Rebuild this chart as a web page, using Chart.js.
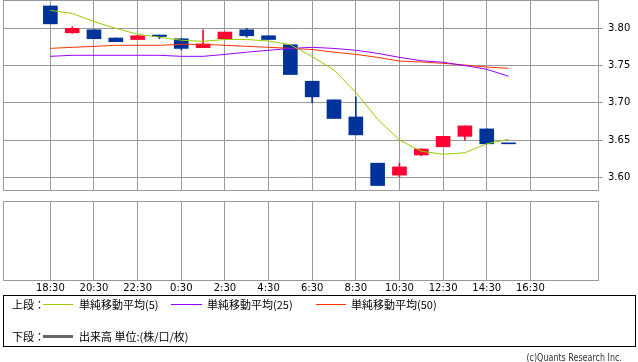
<!DOCTYPE html>
<html lang="ja">
<head>
<meta charset="utf-8">
<title>チャート</title>
<script src="https://cdn.jsdelivr.net/npm/chart.js@4.4.1/dist/chart.umd.min.js"></script>
<style>
  html, body { margin: 0; padding: 0; background: #fff; }
  body {
    width: 638px; height: 362px; position: relative; overflow: hidden;
    font-family: "Noto Sans CJK JP", sans-serif; font-size: 11px; color: #000;
  }
  canvas { position: absolute; left: 0; }
  #priceChart { top: 0; }
  #volumeChart { top: 200px; }
  #legend {
    position: absolute; left: 3px; top: 295px; width: 633px; height: 52px;
    box-sizing: border-box; border: 1px solid #000;
  }
  .lg { position: absolute; line-height: 14px; white-space: nowrap; }
  .sw { position: absolute; height: 0; width: 30px; border-top: 1px solid; }
  #copy {
    position: absolute; right: 16px; top: 351px; line-height: 14px;
    font-family: "DejaVu Sans Condensed", "DejaVu Sans", sans-serif; font-size: 11px;
    color: #333; white-space: nowrap;
    transform: scaleX(0.81); transform-origin: right center;
  }
</style>
</head>
<body>
<canvas id="priceChart" width="638" height="191"></canvas>
<canvas id="volumeChart" width="638" height="96"></canvas>

<div id="legend">
  <span class="lg" style="left:8px; top:1px;">上段：</span>
  <span class="sw" style="left:39px; top:8px; border-color:#99cc00;"></span>
  <span class="lg" style="left:75px; top:1px;">単純移動平均(5)</span>
  <span class="sw" style="left:167px; top:8px; width:31px; border-color:#9900ff;"></span>
  <span class="lg" style="left:203px; top:1px;">単純移動平均(25)</span>
  <span class="sw" style="left:312px; top:8px; border-color:#ff3300;"></span>
  <span class="lg" style="left:347px; top:1px;">単純移動平均(50)</span>

  <span class="lg" style="left:8px; top:33px;">下段：</span>
  <span class="sw" style="left:39px; top:39px; border-top:3px solid #666;"></span>
  <span class="lg" style="left:75px; top:33px;">出来高 単位:(株/口/枚)</span>
</div>
<div id="copy">(c)Quants Research Inc.</div>

<script>
  // --- 1. Chart data (hourly candles, 18:30 -> 15:30) ---
  const candleTimes = [
    "18:30", "19:30", "20:30", "21:30", "22:30", "23:30", "0:30", "1:30",
    "2:30", "3:30", "4:30", "5:30", "6:30", "7:30", "8:30", "9:30",
    "10:30", "11:30", "12:30", "13:30", "14:30", "15:30"
  ];
  const tickLabels = [
    "18:30", "20:30", "22:30", "0:30", "2:30", "4:30",
    "6:30", "8:30", "10:30", "12:30", "14:30", "16:30"
  ];
  const yTicks = [3.60, 3.65, 3.70, 3.75, 3.80];

  const opens  = [3.830, 3.794, 3.798, 3.787, 3.785, 3.791, 3.786, 3.774, 3.786, 3.798, 3.790,
                  3.778, 3.729, 3.704, 3.681, 3.619, 3.603, 3.630, 3.641, 3.655, 3.665, 3.645];
  const highs  = [3.830, 3.802, 3.798, 3.787, 3.790, 3.791, 3.786, 3.798, 3.795, 3.800, 3.790,
                  3.778, 3.729, 3.704, 3.708, 3.619, 3.619, 3.638, 3.655, 3.669, 3.665, 3.645];
  const lows   = [3.806, 3.793, 3.786, 3.782, 3.785, 3.786, 3.771, 3.774, 3.786, 3.788, 3.785,
                  3.738, 3.700, 3.679, 3.657, 3.589, 3.601, 3.629, 3.641, 3.650, 3.645, 3.645];
  const closes = [3.806, 3.800, 3.786, 3.782, 3.790, 3.789, 3.773, 3.779, 3.795, 3.790, 3.785,
                  3.738, 3.708, 3.679, 3.657, 3.589, 3.614, 3.638, 3.655, 3.669, 3.645, 3.645];

  const sma5  = [3.824, 3.820, 3.809, 3.800, 3.792, 3.788, 3.784, 3.7825, 3.785, 3.785, 3.783,
                 3.778, 3.762, 3.744, 3.714, 3.678, 3.650, 3.635, 3.631, 3.633, 3.645, 3.651];
  const sma25 = [3.7624, 3.7638, 3.7638, 3.7638, 3.7638, 3.7638, 3.7624, 3.7624, 3.7650, 3.7680, 3.7705,
                 3.7730, 3.7745, 3.7730, 3.7705, 3.7664, 3.7610, 3.7565, 3.7544, 3.7500, 3.7450, 3.7356];
  const sma50 = [3.7731, 3.7745, 3.7758, 3.7772, 3.7772, 3.7772, 3.7785, 3.7785, 3.7772, 3.7758, 3.7745,
                 3.7731, 3.7715, 3.7680, 3.7650, 3.7610, 3.7560, 3.7548, 3.7530, 3.7507, 3.7480, 3.7463];

  // --- 2. Shared settings ---
  const gridColor = "#999";
  const upColor = "#ff0033";
  const downColor = "#003399";
  const xMin = -2.17, xMax = 25.1; // axis range in hours from 18:30

  Chart.defaults.font.family = "DejaVu Sans";
  Chart.defaults.font.size = 10;
  Chart.defaults.color = "#000";

  const toPoints = arr => arr.map((v, i) => ({ x: i, y: v }));
  const candleColor = ctx => closes[ctx.dataIndex] > opens[ctx.dataIndex] ? upColor : downColor;

  // grey box round the plot area
  const framePlugin = {
    id: "frame",
    beforeDatasetsDraw(chart) {
      const { ctx, chartArea: a } = chart;
      ctx.save();
      ctx.strokeStyle = gridColor;
      ctx.lineWidth = 1;
      ctx.strokeRect(Math.round(a.left) + 0.5, Math.round(a.top) + 0.5,
                     Math.round(a.right - a.left), Math.round(a.bottom - a.top));
      ctx.restore();
    }
  };

  // side axis has a fixed width and asks for no extra room above/below
  const fixSideAxis = s => {
    s.width = 40;
    s.paddingTop = 0;
    s.paddingBottom = 0;
  };

  function timeAxis(showLabels) {
    return {
      type: "linear",
      min: xMin,
      max: xMax,
      offset: false,
      afterBuildTicks: s => { s.ticks = tickLabels.map((_, k) => ({ value: k * 2 })); },
      afterFit: s => {
        s.height = showLabels ? 16 : 0;
        s.paddingLeft = 0;
        s.paddingRight = 0;
      },
      grid: { color: gridColor, drawTicks: false, offset: false },
      border: { display: false },
      ticks: {
        display: showLabels,
        padding: 2,
        autoSkip: false,
        maxRotation: 0,
        callback: (v, i) => tickLabels[i]
      }
    };
  }

  const commonOptions = {
    responsive: false,
    animation: false,
    plugins: { legend: { display: false }, tooltip: { enabled: false } }
  };

  // --- 3. Upper panel: candles + moving averages ---
  new Chart(document.getElementById("priceChart"), {
    type: "bar",
    data: {
      datasets: [
        { type: "line", label: "単純移動平均(5)", data: toPoints(sma5), borderColor: "#99cc00",
          borderWidth: 1, pointRadius: 0, order: 0 },
        { type: "line", label: "単純移動平均(25)", data: toPoints(sma25), borderColor: "#9900ff",
          borderWidth: 1, pointRadius: 0, order: 0 },
        { type: "line", label: "単純移動平均(50)", data: toPoints(sma50), borderColor: "#ff3300",
          borderWidth: 1, pointRadius: 0, order: 0 },
        { label: "body", data: candleTimes.map((_, i) => ({ x: i, y: [opens[i], closes[i]] })),
          backgroundColor: candleColor, barThickness: 14, minBarLength: 1, grouped: false, order: 1 },
        { label: "wick", data: candleTimes.map((_, i) => ({ x: i, y: [lows[i], highs[i]] })),
          backgroundColor: candleColor, barThickness: 1, grouped: false, order: 2 }
      ]
    },
    options: {
      ...commonOptions,
      layout: { padding: { left: 3, top: 0, right: 0, bottom: 1 } },
      scales: {
        x: timeAxis(false),
        y: {
          position: "right",
          min: 3.583,
          max: 3.838,
          afterBuildTicks: s => { s.ticks = yTicks.map(v => ({ value: v })); },
          afterFit: fixSideAxis,
          grid: { color: gridColor, tickLength: 5 },
          border: { display: false },
          ticks: { padding: 5, callback: v => v.toFixed(2) }
        }
      }
    },
    plugins: [framePlugin]
  });

  // --- 4. Lower panel: volume (none reported for this pair) ---
  new Chart(document.getElementById("volumeChart"), {
    type: "bar",
    data: { datasets: [] },
    options: {
      ...commonOptions,
      layout: { padding: { left: 3, top: 1, right: 0, bottom: 0 } },
      scales: {
        x: timeAxis(true),
        y: {
          position: "right",
          min: 0,
          max: 1,
          afterFit: fixSideAxis,
          grid: { display: false },
          border: { display: false },
          ticks: { display: false }
        }
      }
    },
    plugins: [framePlugin]
  });
</script>
</body>
</html>
